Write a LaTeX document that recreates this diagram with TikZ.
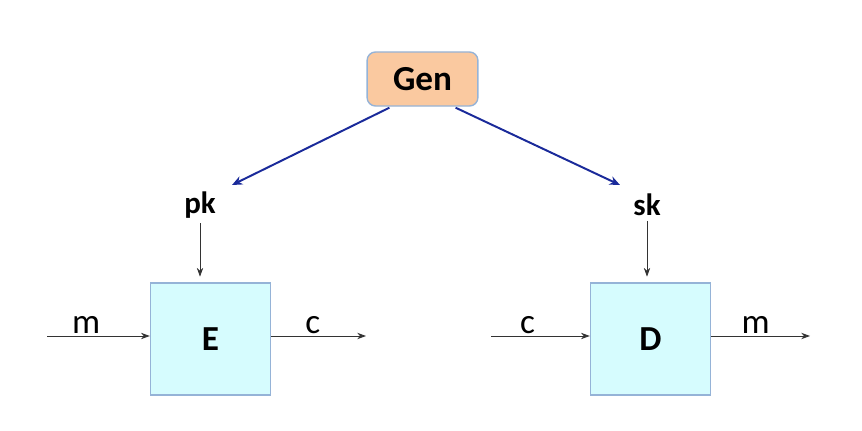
\documentclass[tikz,border=0pt]{standalone}
\usepackage{fontspec}
\setmainfont{Carlito}
\usetikzlibrary{arrows.meta,positioning}

\definecolor{genfill}{HTML}{FAC9A0}
\definecolor{boxfill}{HTML}{D6FCFE}
\definecolor{boxline}{HTML}{95B3D7}
\definecolor{keyblue}{HTML}{1A2A9A}

\begin{document}
\begin{tikzpicture}[
    x=0.025cm, y=-0.025cm,
    font=\fontsize{22}{26}\selectfont\bfseries,
    box/.style={draw=boxline, fill=boxfill, line width=1pt, minimum width=3cm, minimum height=2.8cm, inner sep=0pt},
    gen/.style={draw=boxline, fill=genfill, line width=1pt, rounded corners=6pt, minimum width=2.77cm, minimum height=1.35cm, inner sep=0pt},
    arr/.style={-{Stealth[length=2.2mm, width=1.6mm]}, semithick, black!80},
    keyarr/.style={-{Stealth[length=2.6mm, width=2.2mm]}, keyblue, line width=1.4pt},
    lbl/.style={font=\fontsize{25}{28}\selectfont, black}
  ]
  \useasboundingbox (0,0) rectangle (862,431);
  \node[gen] (gen) at (422.5,79) {\fontsize{25}{28}\selectfont Gen};
  \node (pk) at (200,205) {pk};
  \node (sk) at (647,205) {sk};
  \node[box] (enc) at (210.5,339) {\fontsize{25}{28}\selectfont E};
  \node[box] (dec) at (650.5,339) {\fontsize{25}{28}\selectfont D};
  \coordinate (min) at (47,336);
  \coordinate (cout) at (366,336);
  \coordinate (cin) at (491,336);
  \coordinate (mout) at (810,336);
  \draw[keyarr] (gen.south west) ++(23,1) -- (232,185);
  \draw[keyarr] (gen.south east) ++(-23,1) -- (620,185);
  \draw[arr, shorten >=4pt] (pk.south) -- (pk.south |- enc.north);
  \draw[arr, shorten >=4pt] (sk.south) -- (sk.south |- dec.north);
  \draw[arr] (min) -- (enc.west |- min) node[lbl, pos=0.38, above=-2pt] {m};
  \draw[arr] (enc.east |- cout) -- (cout) node[lbl, pos=0.44, above=-2pt] {c};
  \draw[arr] (cin) -- (dec.west |- cin) node[lbl, pos=0.37, above=-2pt] {c};
  \draw[arr] (dec.east |- mout) -- (mout) node[lbl, pos=0.45, above=-2pt] {m};
\end{tikzpicture}
\end{document}
